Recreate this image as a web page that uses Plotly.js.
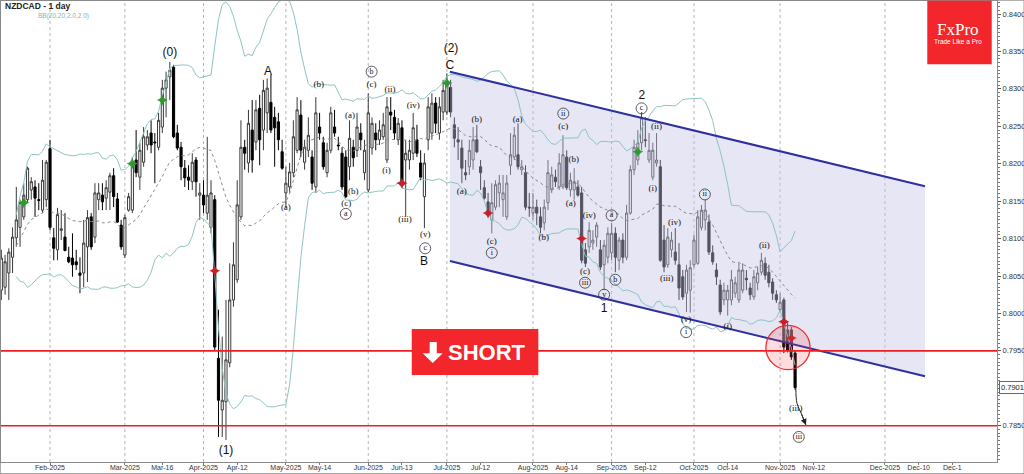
<!DOCTYPE html>
<html>
<head>
<meta charset="utf-8">
<script src="https://cdn.plot.ly/plotly-3.0.1.min.js"></script>
<style>
html,body{margin:0;padding:0;background:#fff;}
#chart{width:1024px;height:474px;}
</style>
</head>
<body>
<div id="chart"></div>
<script>
// ---------- DATA (NZDCAD daily, bar index 0 = 15 Jan 2025) ----------
const openP = [
0.8031,0.8035,0.8054,0.8075,0.8101,0.8115,0.8129,0.8152,0.8165,0.8169,
0.8152,0.8138,0.8152,0.8220,0.8101,0.8085,0.8111,0.8102,0.8075,0.8074,
0.8069,0.8054,0.8054,0.8089,0.8129,0.8102,0.8152,0.8158,0.8154,0.8162,
0.8184,0.8153,0.8118,0.8078,0.8138,0.8138,0.8205,0.8182,0.8202,0.8225,
0.8241,0.8229,0.8222,0.8249,0.8301,0.8316,0.8329,0.8241,0.8222,0.8194,
0.8182,0.8176,0.8205,0.8158,0.8158,0.8134,0.8115,0.8152,0.7940,0.7871,
0.7882,0.7934,0.8018,0.8045,0.8129,0.8222,0.8201,0.8245,0.8229,0.8274,
0.8245,0.8268,0.8282,0.8262,0.8256,0.8216,0.8161,0.8169,0.8188,0.8218,
0.8265,0.8202,0.8218,0.8209,0.8169,0.8249,0.8228,0.8188,0.8218,0.8249,
0.8225,0.8214,0.8209,0.8196,0.8222,0.8218,0.8241,0.8188,0.8165,0.8221,
0.8241,0.8232,0.8236,0.8205,0.8269,0.8262,0.8232,0.8248,0.8205,0.8205,
0.8214,0.8232,0.8201,0.8156,0.8232,0.8241,0.8281,0.8241,0.8269,0.8269,
0.8302,0.8252,0.8232,0.8221,0.8188,0.8196,0.8205,0.8232,0.8196,0.8168,
0.8149,0.8125,0.8142,0.8161,0.8152,0.8129,0.8198,0.8209,0.8212,0.8192,
0.8188,0.8142,0.8134,0.8142,0.8129,0.8121,0.8148,0.8165,0.8182,0.8169,
0.8169,0.8209,0.8165,0.8165,0.8169,0.8161,0.8085,0.8089,0.8094,0.8102,
0.8085,0.8065,0.8075,0.8081,0.8107,0.8071,0.8098,0.8075,0.8134,0.8192,
0.8205,0.8228,0.8232,0.8205,0.8182,0.8201,0.8196,0.8098,0.8065,0.8085,
0.8082,0.8065,0.8049,0.8027,0.8031,0.8065,0.8067,0.8115,0.8125,0.8122,
0.8081,0.8058,0.8038,0.8018,0.8018,0.8018,0.8027,0.8018,0.8031,0.8047,
0.8034,0.8022,0.8041,0.8055,0.8067,0.8055,0.8042,0.8025,0.8005,0.8018,
0.7978,0.7978,0.7947];
const highP = [
0.8085,0.8078,0.8087,0.8115,0.8169,0.8152,0.8174,0.8196,0.8182,0.8178,
0.8174,0.8205,0.8205,0.8232,0.8114,0.8141,0.8138,0.8134,0.8089,0.8107,
0.8085,0.8075,0.8125,0.8138,0.8134,0.8174,0.8174,0.8174,0.8178,0.8188,
0.8194,0.8161,0.8125,0.8132,0.8161,0.8209,0.8245,0.8228,0.8249,0.8245,
0.8258,0.8241,0.8268,0.8312,0.8323,0.8336,0.8332,0.8252,0.8229,0.8205,
0.8198,0.8214,0.8209,0.8174,0.8178,0.8236,0.8178,0.8158,0.8005,0.7969,
0.8018,0.8067,0.8095,0.8178,0.8258,0.8232,0.8272,0.8285,0.8285,0.8292,
0.8312,0.8314,0.8319,0.8276,0.8268,0.8232,0.8196,0.8201,0.8258,0.8289,
0.8285,0.8232,0.8262,0.8218,0.8289,0.8268,0.8236,0.8228,0.8276,0.8272,
0.8236,0.8222,0.8218,0.8258,0.8232,0.8268,0.8254,0.8232,0.8294,0.8262,
0.8254,0.8258,0.8268,0.8289,0.8289,0.8272,0.8261,0.8258,0.8232,0.8232,
0.8268,0.8252,0.8218,0.8214,0.8289,0.8294,0.8289,0.8289,0.8312,0.8321,
0.8312,0.8262,0.8249,0.8232,0.8205,0.8232,0.8249,0.8252,0.8205,0.8178,
0.8161,0.8174,0.8178,0.8185,0.8185,0.8185,0.8241,0.8249,0.8254,0.8205,
0.8198,0.8161,0.8161,0.8152,0.8142,0.8152,0.8205,0.8196,0.8192,0.8214,
0.8238,0.8218,0.8188,0.8194,0.8178,0.8169,0.8094,0.8122,0.8111,0.8122,
0.8098,0.8098,0.8115,0.8121,0.8115,0.8102,0.8107,0.8145,0.8198,0.8232,
0.8245,0.8269,0.8262,0.8241,0.8228,0.8241,0.8205,0.8118,0.8114,0.8109,
0.8114,0.8094,0.8058,0.8065,0.8071,0.8105,0.8138,0.8145,0.8152,0.8132,
0.8091,0.8067,0.8045,0.8041,0.8038,0.8058,0.8049,0.8067,0.8067,0.8058,
0.8041,0.8058,0.8062,0.8081,0.8075,0.8065,0.8047,0.8031,0.8027,0.8021,
0.7989,0.7982,0.7951];
const lowP = [
0.8018,0.8025,0.8018,0.8054,0.8089,0.8089,0.8125,0.8148,0.8152,0.8129,
0.8138,0.8134,0.8142,0.8111,0.8071,0.8071,0.8098,0.8083,0.8067,0.8049,
0.8058,0.8027,0.8035,0.8042,0.8085,0.8094,0.8138,0.8138,0.8138,0.8138,
0.8142,0.8121,0.8085,0.8074,0.8136,0.8134,0.8182,0.8165,0.8196,0.8218,
0.8214,0.8174,0.8218,0.8241,0.8262,0.8285,0.8234,0.8218,0.8178,0.8169,
0.8165,0.8165,0.8156,0.8125,0.8134,0.8125,0.8107,0.7951,0.7835,0.7835,
0.7831,0.7928,0.8009,0.8041,0.8125,0.8192,0.8188,0.8188,0.8218,0.8198,
0.8218,0.8241,0.8241,0.8196,0.8218,0.8192,0.8142,0.8161,0.8182,0.8214,
0.8209,0.8192,0.8209,0.8165,0.8161,0.8232,0.8192,0.8182,0.8214,0.8236,
0.8218,0.8165,0.8154,0.8178,0.8196,0.8209,0.8218,0.8178,0.8162,0.8212,
0.8218,0.8225,0.8232,0.8201,0.8245,0.8232,0.8225,0.8168,0.8129,0.8192,
0.8205,0.8209,0.8178,0.8114,0.8218,0.8232,0.8241,0.8232,0.8258,0.8265,
0.8262,0.8222,0.8205,0.8174,0.8178,0.8185,0.8192,0.8214,0.8165,0.8152,
0.8129,0.8107,0.8138,0.8142,0.8129,0.8125,0.8185,0.8205,0.8192,0.8185,
0.8138,0.8129,0.8125,0.8118,0.8107,0.8111,0.8138,0.8161,0.8169,0.8165,
0.8166,0.8165,0.8156,0.8152,0.8156,0.8067,0.8062,0.8081,0.8085,0.8089,
0.8058,0.8031,0.8067,0.8071,0.8055,0.8058,0.8067,0.8071,0.8132,0.8185,
0.8198,0.8218,0.8222,0.8201,0.8178,0.8196,0.8069,0.8055,0.8061,0.8075,
0.8065,0.8018,0.8018,0.8002,0.8001,0.8061,0.8065,0.8111,0.8111,0.8078,
0.8065,0.8038,0.7998,0.8011,0.7997,0.8011,0.8021,0.8014,0.8027,0.8031,
0.8018,0.8018,0.8031,0.8051,0.8045,0.8035,0.8018,0.8014,0.8001,0.7947,
0.7948,0.7938,0.7898];
const closeP = [
0.8074,0.8069,0.8082,0.8102,0.8125,0.8148,0.8158,0.8194,0.8176,0.8154,
0.8151,0.8178,0.8202,0.8115,0.8087,0.8132,0.8113,0.8084,0.8069,0.8065,
0.8065,0.8051,0.8094,0.8128,0.8089,0.8161,0.8161,0.8149,0.8168,0.8184,
0.8156,0.8122,0.8089,0.8128,0.8156,0.8201,0.8188,0.8218,0.8236,0.8236,
0.8225,0.8228,0.8258,0.8301,0.8312,0.8325,0.8236,0.8221,0.8196,0.8181,
0.8178,0.8202,0.8176,0.8161,0.8145,0.8158,0.8161,0.7955,0.7884,0.7884,
0.7938,0.8018,0.8065,0.8145,0.8222,0.8214,0.8254,0.8205,0.8272,0.8232,
0.8298,0.8301,0.8245,0.8248,0.8232,0.8194,0.8174,0.8189,0.8236,0.8272,
0.8218,0.8222,0.8238,0.8174,0.8268,0.8241,0.8196,0.8218,0.8268,0.8241,
0.8224,0.8169,0.8156,0.8234,0.8208,0.8249,0.8232,0.8218,0.8268,0.8254,
0.8232,0.8245,0.8252,0.8276,0.8265,0.8241,0.8254,0.8174,0.8214,0.8218,
0.8248,0.8214,0.8182,0.8201,0.8276,0.8281,0.8254,0.8276,0.8298,0.8309,
0.8269,0.8234,0.8229,0.8194,0.8185,0.8218,0.8232,0.8216,0.8188,0.8154,
0.8134,0.8148,0.8172,0.8174,0.8161,0.8174,0.8212,0.8238,0.8196,0.8196,
0.8142,0.8141,0.8142,0.8134,0.8115,0.8142,0.8188,0.8185,0.8176,0.8201,
0.8212,0.8168,0.8178,0.8176,0.8158,0.8071,0.8067,0.8111,0.8098,0.8118,
0.8062,0.8091,0.8107,0.8107,0.8075,0.8098,0.8075,0.8134,0.8192,0.8222,
0.8228,0.8261,0.8231,0.8218,0.8218,0.8205,0.8071,0.8062,0.8102,0.8098,
0.8071,0.8034,0.8022,0.8058,0.8061,0.8098,0.8129,0.8138,0.8138,0.8082,
0.8069,0.8049,0.8002,0.8031,0.8031,0.8045,0.8041,0.8058,0.8058,0.8045,
0.8025,0.8049,0.8054,0.8071,0.8051,0.8041,0.8027,0.8018,0.8015,0.7955,
0.7951,0.7942,0.7901];

// x-axis ticks (bar index) and their labels
const tickIdx  = [13,33,43,54,63,76,85,98,107,119,128,142,151,163,172,185,194,208,217,236,245,254];
const tickText = ['Feb-2025','Mar-2025','Mar-16','Apr-2025','Apr-12','May-2025','May-14','Jun-2025','Jun-13',
                  'Jul-2025','Jul-12','Aug-2025','Aug-14','Sep-2025','Sep-12','Oct-2025','Oct-14','Nov-2025',
                  'Nov-12','Dec-2025','Dec-10','Dec-1'];
const monthStartIdx = [13,33,54,76,98,119,142,163,185,208,236];

// key levels
const levels = [0.7950, 0.7850];
const lastPrice = 0.7901;

// descending channel (bar index, price)
const chanX     = [119.8, 246.7];
const chanUpper = [0.8323, 0.8170];
const chanLower = [0.8070, 0.7916];

// signal markers
const buyIdx  = [6, 35, 43, 119, 170];
const buyY    = [0.8148, 0.8200, 0.8285, 0.8308, 0.8216];
const sellIdx = [57, 107, 130, 155, 209, 211];
const sellY   = [0.8057, 0.8174, 0.8134, 0.8100, 0.7989, 0.7967];

// wave labels
const bigText = ['(0)','A','(2)','C','B','(1)','1','2'];
const bigIdx  = [45.0, 71.2, 120.1, 119.8, 112.9, 60.0, 161.0, 171.1];
const bigY    = [0.8348, 0.8322, 0.8353, 0.8330, 0.8069, 0.7816, 0.8006, 0.8290];

const parText = ['(a)','(b)','(c)','(ii)','(iv)','(a)','(i)','(b)','(c)','(iii)','(v)',
                 '(a)','(b)','(c)','(a)','(c)','(b)','(a)','(b)','(iv)','(c)',
                 '(ii)','(i)','(iv)','(iii)','(v)','(i)','(ii)','(iii)'];
const parIdx  = [76.0,84.8,98.9,103.8,110.0,93.1,102.9,94.0,92.1,107.8,113.2,
                 123.0,127.0,131.0,137.9,150.1,152.9,152.1,144.9,157.0,155.9,
                 175.0,174.0,179.8,177.7,182.9,194.0,203.8,212.2];
const parY    = [0.8141,0.8305,0.8306,0.8299,0.8277,0.8264,0.8190,0.8163,0.8147,0.8125,0.8105,
                 0.8163,0.8259,0.8096,0.8259,0.8249,0.8205,0.8146,0.8101,0.8131,0.8056,
                 0.8249,0.8167,0.8121,0.8046,0.7991,0.7982,0.8091,0.7872];

const circText = ['b','a','c','i','ii','iii','a','b','v','c','i','ii','iii'];
const circIdx  = [98.9,92.0,113.2,131.0,150.1,155.9,163.0,164.0,161.0,171.0,182.9,187.9,213.0];
const circY    = [0.8323,0.8133,0.8087,0.8081,0.8267,0.8041,0.8131,0.8045,0.8025,0.8274,0.7975,0.8159,0.7835];

// projected path after last bar
const projIdx = [212.2, 212.5, 213.6, 214.9];
const projY   = [0.7901, 0.7880, 0.7867, 0.7851];

// ---------- BUILD ----------
const idx = closeP.map((_, i) => i);

function bollinger(c, n, k) {
  const xs = [], mid = [], up = [], lo = [];
  for (let i = 4; i < c.length; i++) {
    const s = Math.max(0, i - n + 1);
    const w = c.slice(s, i + 1);
    const m = w.reduce((a, b) => a + b, 0) / w.length;
    const sd = Math.sqrt(w.reduce((a, b) => a + (b - m) * (b - m), 0) / w.length);
    xs.push(i); mid.push(m); up.push(m + k * sd); lo.push(m - k * sd);
  }
  return {xs, mid, up, lo};
}
const bb = bollinger(closeP, 20, 2.0);

const XR = [-0.088, 265.93];
const YR = [0.78015, 0.84174];
const serif = 'Liberation Serif, DejaVu Serif, serif';
const sans = 'Liberation Sans, Arial, sans-serif';

const traces = [
  { // channel fill
    x: [chanX[0], chanX[1], chanX[1], chanX[0]],
    y: [chanUpper[0], chanUpper[1], chanLower[1], chanLower[0]],
    type: 'scatter', mode: 'lines', fill: 'toself',
    fillcolor: 'rgba(196,196,232,0.42)', line: {width: 0}, hoverinfo: 'skip'
  },
  {x: bb.xs, y: bb.up, type: 'scatter', mode: 'lines', line: {color: '#8fc3c3', width: 1}, hoverinfo: 'skip'},
  {x: bb.xs, y: bb.lo, type: 'scatter', mode: 'lines', line: {color: '#8fc3c3', width: 1}, hoverinfo: 'skip'},
  {x: bb.xs, y: bb.mid, type: 'scatter', mode: 'lines', line: {color: '#8a8a8a', width: 1, dash: 'dot'}, hoverinfo: 'skip'},
  {x: chanX, y: chanUpper, type: 'scatter', mode: 'lines', line: {color: '#2e30a0', width: 2}, hoverinfo: 'skip'},
  {x: chanX, y: chanLower, type: 'scatter', mode: 'lines', line: {color: '#2e30a0', width: 2}, hoverinfo: 'skip'},
  {
    type: 'candlestick', x: idx, open: openP, high: highP, low: lowP, close: closeP,
    increasing: {line: {color: '#3a3a3a', width: 1}, fillcolor: '#ffffff'},
    decreasing: {line: {color: '#000000', width: 1}, fillcolor: '#000000'},
    whiskerwidth: 0
  },
  {x: buyIdx, y: buyY, type: 'scatter', mode: 'markers',
   marker: {symbol: 'star-diamond', size: 8, color: '#2e9a2e'}, hoverinfo: 'skip'},
  {x: sellIdx, y: sellY, type: 'scatter', mode: 'markers',
   marker: {symbol: 'star-diamond', size: 8, color: '#c8202a'}, hoverinfo: 'skip'},
  {x: projIdx, y: projY, type: 'scatter', mode: 'lines',
   line: {color: '#222', width: 1, shape: 'spline'}, hoverinfo: 'skip'},
  {x: bigIdx, y: bigY, type: 'scatter', mode: 'text', text: bigText,
   textfont: {family: sans, size: 12, color: '#111'}, textposition: 'middle center', hoverinfo: 'skip'},
  {x: parIdx, y: parY, type: 'scatter', mode: 'text', text: parText,
   textfont: {family: serif, size: 9, color: '#111'}, textposition: 'middle center', hoverinfo: 'skip'},
  {x: circIdx, y: circY, type: 'scatter', mode: 'markers+text', text: circText,
   marker: {symbol: 'circle-open', size: 11, color: '#333', line: {width: 0.8}},
   textfont: {family: serif, size: 8, color: '#111'}, textposition: 'middle center', hoverinfo: 'skip'}
];

const shapes = [];
monthStartIdx.forEach(v => shapes.push({
  type: 'line', xref: 'x', yref: 'paper', x0: v, x1: v, y0: 0, y1: 1,
  line: {color: '#b4b4b4', width: 1, dash: 'dot'}, layer: 'below'
}));
levels.forEach(v => shapes.push({
  type: 'line', xref: 'paper', yref: 'y', x0: 0, x1: 1, y0: v, y1: v,
  line: {color: '#ee1c24', width: 1.6}
}));
shapes.push({ // highlight circle at breakout
  type: 'circle', xref: 'x', yref: 'y', x0: 204.2, x1: 216.0, y0: 0.7925, y1: 0.7984,
  fillcolor: 'rgba(240,60,60,0.18)', line: {color: '#ee2a2a', width: 1.3}
});
shapes.push({ // SHORT badge
  type: 'rect', xref: 'paper', yref: 'paper', x0: 0.4124, x1: 0.5395, y0: 0.1887, y1: 0.2885,
  fillcolor: '#f3262b', line: {width: 0}
});
shapes.push({ // down arrow in badge
  type: 'path', xref: 'paper', yref: 'paper',
  path: 'M 0.4304,0.2603 L 0.4375,0.2603 L 0.4375,0.2358 L 0.4435,0.2358 L 0.4334,0.2148 L 0.4234,0.2358 L 0.4304,0.2358 Z',
  fillcolor: '#ffffff', line: {width: 0}
});
shapes.push({ // FxPro logo box
  type: 'rect', xref: 'paper', yref: 'paper', x0: 0.930, x1: 0.9947, y0: 0.8627, y1: 1.0022,
  fillcolor: '#f2262b', line: {width: 0}
});
shapes.push({ // outer frame
  type: 'rect', xref: 'paper', yref: 'paper', x0: -0.0008, x1: 1.0272, y0: -0.0255, y1: 1.0018,
  line: {color: '#8a8a8a', width: 1}, fillcolor: 'rgba(0,0,0,0)'
});

const annotations = [
  {xref: 'paper', yref: 'paper', x: 0.002, y: 0.989, xanchor: 'left', yanchor: 'middle', showarrow: false,
   text: '<b>NZDCAD - 1 day</b>', font: {family: sans, size: 8.5, color: '#222'}},
  {xref: 'paper', yref: 'paper', x: 0.0351, y: 0.9675, xanchor: 'left', yanchor: 'middle', showarrow: false,
   text: 'BB(20,20,2.0,2.0)', font: {family: sans, size: 6.5, color: '#7fb5b5'}},
  {xref: 'paper', yref: 'paper', x: 0.4875, y: 0.2386, xanchor: 'center', yanchor: 'middle', showarrow: false,
   text: '<b>SHORT</b>', font: {family: sans, size: 22, color: '#ffffff'}},
  {xref: 'paper', yref: 'paper', x: 0.9613, y: 0.9371, xanchor: 'center', yanchor: 'middle', showarrow: false,
   text: 'FxPro', font: {family: serif, size: 17, color: '#ffffff'}},
  {xref: 'paper', yref: 'paper', x: 0.9613, y: 0.9132, xanchor: 'center', yanchor: 'middle', showarrow: false,
   text: 'Trade Like a Pro', font: {family: sans, size: 6.5, color: '#ffffff'}},
  {xref: 'paper', yref: 'y', x: 1, y: lastPrice, xanchor: 'left', yanchor: 'middle', xshift: 2, showarrow: false,
   text: lastPrice.toFixed(4), font: {family: sans, size: 7.5, color: '#222'},
   bgcolor: '#ffffff', bordercolor: '#666', borderwidth: 1, borderpad: 1},
  {xref: 'x', yref: 'y', x: projIdx[3], y: projY[3], ax: projIdx[2], ay: projY[2], axref: 'x', ayref: 'y',
   showarrow: true, arrowhead: 2, arrowsize: 1.2, arrowwidth: 1, arrowcolor: '#222', text: ''}
];

const layout = {
  width: 1024, height: 474,
  margin: {l: 1, r: 27, t: 1, b: 12, pad: 0},
  paper_bgcolor: '#ffffff', plot_bgcolor: '#ffffff',
  showlegend: false, hovermode: false, boxgap: 0.18,
  xaxis: {
    range: XR, type: 'linear', rangeslider: {visible: false},
    tickmode: 'array', tickvals: tickIdx, ticktext: tickText,
    ticks: 'outside', ticklen: 2, tickcolor: '#777', ticklabelstandoff: -3,
    tickfont: {family: sans, size: 7, color: '#333'},
    showgrid: false, zeroline: false, showline: true, mirror: true, linecolor: '#8a8a8a', linewidth: 1
  },
  yaxis: {
    range: YR, side: 'right', dtick: 0.005, tick0: 0.78, tickformat: '.4f',
    ticks: 'outside', ticklen: 3, tickcolor: '#555',
    minor: {ticks: 'outside', ticklen: 2, dtick: 0.0005, tickcolor: '#777', showgrid: false},
    tickfont: {family: sans, size: 7.5, color: '#333'},
    showgrid: false, zeroline: false, showline: true, mirror: true, linecolor: '#8a8a8a', linewidth: 1
  },
  shapes: shapes,
  annotations: annotations
};

Plotly.newPlot('chart', traces, layout, {staticPlot: true, displayModeBar: false});
</script>
</body>
</html>
